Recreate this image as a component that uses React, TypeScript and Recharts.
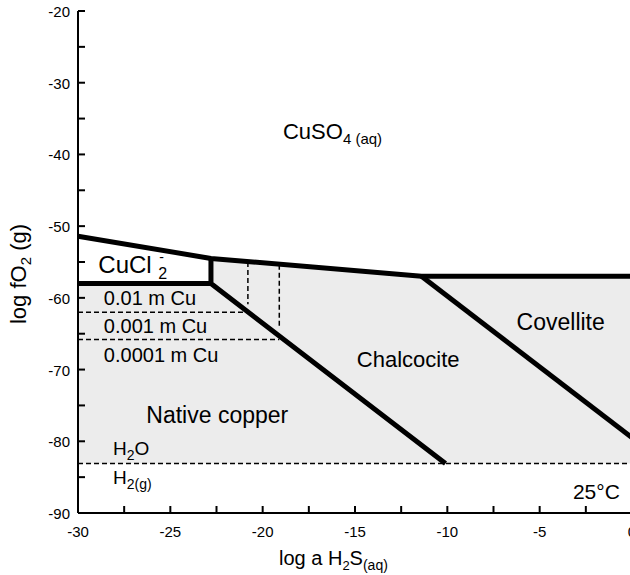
import React from "react";
import {
    ComposedChart,
    Area,
    Line,
    XAxis,
    YAxis,
    ReferenceDot,
} from "recharts";

// boundaries of the Cu-S-O-H diagram
const upperX = [-30, -22.8, -11.4, 0];
const upperY = [-51.4, -54.5, -57.0, -57.0];

const cuclX = [-30, -22.8];
const cuclY = [-58, -58];

const chalcociteX = [-22.8, -22.8, -10.1];
const chalcociteY = [-54.5, -58, -83.1];

const covelliteX = [-11.4, 0];
const covelliteY = [-57.0, -79.5];

const cu01X = [-30, -20.8];
const cu01Y = [-62, -62];
const cu001X = [-30, -19.1];
const cu001Y = [-65.8, -65.8];

const cu01VertX = [-20.8, -20.8];
const cu01VertY = [-55.0, -60.9];
const cu001VertX = [-19.1, -19.1];
const cu001VertY = [-55.4, -64.2];

const waterX = [-30, 0];
const waterY = [-83.1, -83.1];

const xTicks = [-30, -27.5, -25, -22.5, -20, -17.5, -15, -12.5, -10, -7.5, -5, -2.5, 0];
const yTicks = [-20, -25, -30, -35, -40, -45, -50, -55, -60, -65, -70, -75, -80, -85, -90];

const pts = (xs: number[], ys: number[]) => xs.map((x, i) => ({ x, y: ys[i] }));

const FONT = "'Liberation Sans', Arial, sans-serif";
const W = 640;
const H = 575;

const axisLine = { stroke: "#000", strokeWidth: 2 };
const tickLine = { stroke: "#000", strokeWidth: 2 };

const T = (props: any) => <text fontFamily={FONT} fill="#000" {...props} />;

// tick labels: only every 5 on x, every 10 on y
const XTick = (p: any) => {
    const v = p.payload.value;
    if (v % 5 !== 0) return null;
    return <T x={p.x} y={p.y + 11} fontSize={15} textAnchor="middle">{String(v)}</T>;
};
const YTick = (p: any) => {
    const v = p.payload.value;
    if (v % 10 !== 0) return null;
    return <T x={p.x} y={p.y + 6} fontSize={15} textAnchor="end">{String(v)}</T>;
};

const note = (key: string, x: number, y: number, draw: (cx: number, cy: number) => React.ReactNode) => (
    <ReferenceDot
        key={key}
        x={x}
        y={y}
        r={1}
        fill="none"
        stroke="none"
        shape={(p: any) => <g>{draw(p.cx, p.cy)}</g>}
    />
);

export default function App() {
    const thick = { stroke: "#000", strokeWidth: 5, dot: false, isAnimationActive: false, type: "linear" as const };
    const dashed = { stroke: "#000", strokeWidth: 1.5, strokeDasharray: "5 3", dot: false, isAnimationActive: false, type: "linear" as const };

    return (
        <div style={{ position: "absolute", left: 0, top: 0, width: 630, height: 575, overflow: "hidden", background: "#fff" }}>
            <ComposedChart width={W} height={H} margin={{ top: 11, right: 8, bottom: 0, left: 0 }}>
                <XAxis
                    dataKey="x"
                    type="number"
                    domain={[-30, 0]}
                    ticks={xTicks}
                    interval={0}
                    height={62}
                    tickSize={-7}
                    tickMargin={20}
                    axisLine={axisLine}
                    tickLine={tickLine}
                    tick={<XTick />}
                    label={{
                        content: (p: any) => {
                            const vb = p.viewBox;
                            return (
                                <T x={vb.x + 201} y={vb.y + 52} fontSize={20}>
                                    log a H<tspan fontSize={13} dy={5}>2</tspan>
                                    <tspan dy={-5}>S</tspan>
                                    <tspan fontSize={14} dy={5}>(aq)</tspan>
                                </T>
                            );
                        },
                    }}
                />
                <XAxis
                    xAxisId="top"
                    orientation="top"
                    dataKey="x"
                    type="number"
                    domain={[-30, 0]}
                    ticks={xTicks}
                    interval={0}
                    height={0}
                    tickSize={-7}
                    axisLine={axisLine}
                    tickLine={tickLine}
                    tickFormatter={() => ""}
                />
                <YAxis
                    type="number"
                    domain={[-90, -20]}
                    ticks={yTicks}
                    interval={0}
                    width={78}
                    tickSize={-7}
                    tickMargin={15}
                    axisLine={axisLine}
                    tickLine={tickLine}
                    tick={<YTick />}
                    label={{
                        content: (p: any) => {
                            const vb = p.viewBox;
                            const cx = vb.x + 26;
                            const cy = vb.y + vb.height / 2 + 12;
                            return (
                                <T x={cx} y={cy} fontSize={22} textAnchor="middle" transform={`rotate(-90 ${cx} ${cy})`}>
                                    log fO<tspan fontSize={15} dy={5}>2</tspan>
                                    <tspan dy={-5}> (g)</tspan>
                                </T>
                            );
                        },
                    }}
                />
                <YAxis
                    yAxisId="right"
                    orientation="right"
                    type="number"
                    domain={[-90, -20]}
                    ticks={yTicks}
                    interval={0}
                    width={0}
                    tickSize={-7}
                    axisLine={axisLine}
                    tickLine={tickLine}
                    tickFormatter={() => ""}
                />

                <Area
                    data={pts(upperX, upperY)}
                    dataKey="y"
                    baseValue={-83.1}
                    type="linear"
                    fill="#ececec"
                    fillOpacity={1}
                    stroke="none"
                    isAnimationActive={false}
                />
                <Area
                    data={pts(cuclX, upperY.slice(0, 2))}
                    dataKey="y"
                    baseValue={-58}
                    type="linear"
                    fill="#fff"
                    fillOpacity={1}
                    stroke="none"
                    isAnimationActive={false}
                />

                <Line data={pts(waterX, waterY)} dataKey="y" {...dashed} />
                <Line data={pts(cu01X, cu01Y)} dataKey="y" {...dashed} />
                <Line data={pts(cu001X, cu001Y)} dataKey="y" {...dashed} />
                <Line data={pts(cu01VertX, cu01VertY)} dataKey="y" {...dashed} />
                <Line data={pts(cu001VertX, cu001VertY)} dataKey="y" {...dashed} />

                <Line data={pts(upperX, upperY)} dataKey="y" {...thick} />
                <Line data={pts(cuclX, cuclY)} dataKey="y" {...thick} />
                <Line data={pts(chalcociteX, chalcociteY)} dataKey="y" {...thick} />
                <Line data={pts(covelliteX, covelliteY)} dataKey="y" {...thick} />

                {note("cuso4", -18.9, -37.9, (x, y) => (
                    <T x={x} y={y} fontSize={22}>
                        CuSO<tspan fontSize={15} dy={5}>4 (aq)</tspan>
                    </T>
                ))}
                {note("cucl", -28.9, -56.6, (x, y) => (
                    <>
                        <T x={x} y={y} fontSize={24}>CuCl</T>
                        <T x={x + 60} y={y + 6} fontSize={16}>2</T>
                        <T x={x + 61} y={y - 11} fontSize={14}>-</T>
                    </>
                ))}
                {note("m01", -28.6, -61.0, (x, y) => <T x={x} y={y} fontSize={20}>0.01 m Cu</T>)}
                {note("m001", -28.6, -64.9, (x, y) => <T x={x} y={y} fontSize={20}>0.001 m Cu</T>)}
                {note("m0001", -28.6, -68.9, (x, y) => <T x={x} y={y} fontSize={20}>0.0001 m Cu</T>)}
                {note("native", -26.3, -77.5, (x, y) => <T x={x} y={y} fontSize={23}>Native copper</T>)}
                {note("chalcocite", -14.9, -69.6, (x, y) => <T x={x} y={y} fontSize={22}>Chalcocite</T>)}
                {note("covellite", -6.25, -64.5, (x, y) => <T x={x} y={y} fontSize={23}>Covellite</T>)}
                {note("h2o", -28.1, -81.9, (x, y) => (
                    <T x={x} y={y} fontSize={19}>
                        H<tspan fontSize={14} dy={5}>2</tspan>
                        <tspan dy={-5}>O</tspan>
                    </T>
                ))}
                {note("h2", -28.1, -86.0, (x, y) => (
                    <T x={x} y={y} fontSize={19}>
                        H<tspan fontSize={14} dy={5}>2(g)</tspan>
                    </T>
                ))}
                {note("temp", -3.2, -88.0, (x, y) => <T x={x} y={y} fontSize={21}>25°C</T>)}
            </ComposedChart>
        </div>
    );
}
